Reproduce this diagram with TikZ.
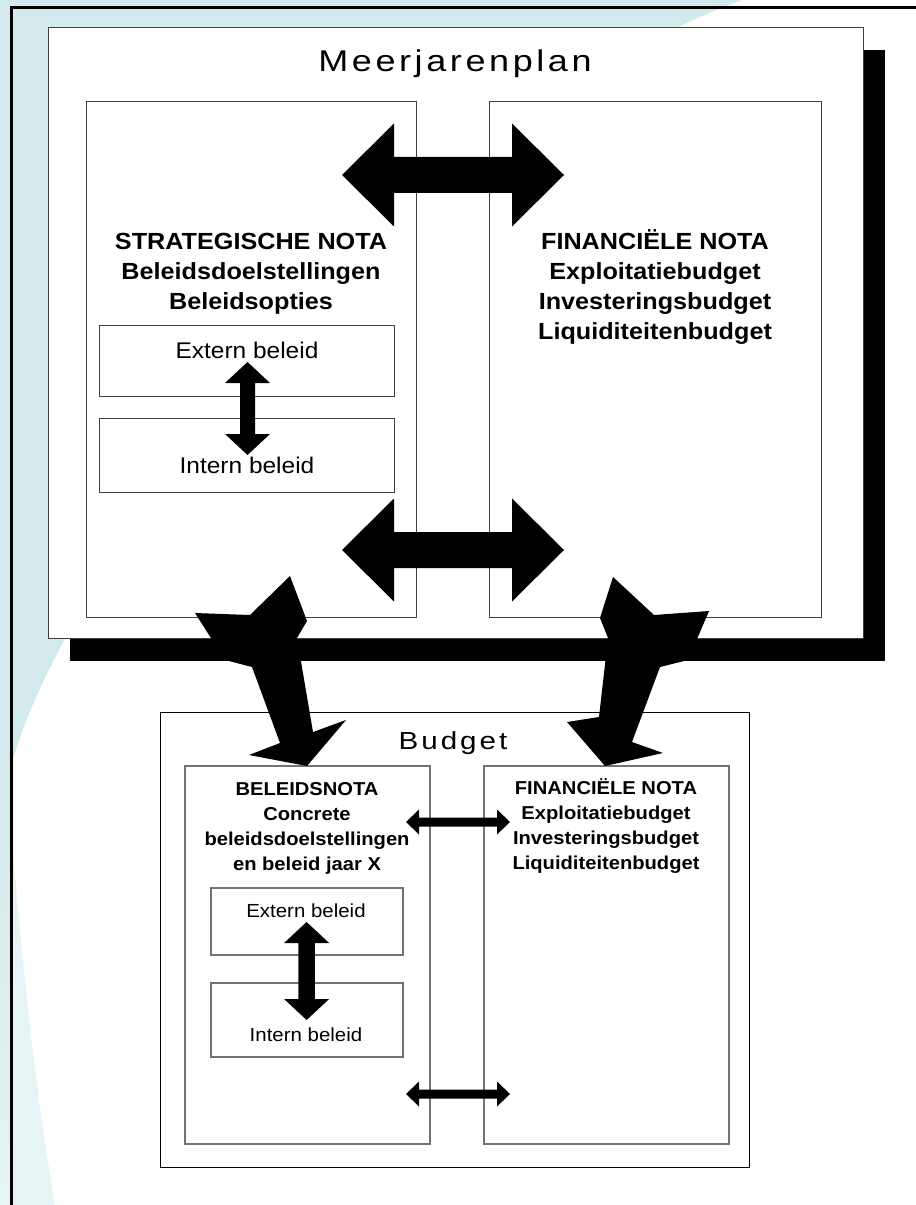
\documentclass[tikz,border=0pt]{standalone}
\usepackage{fontspec}
\setmainfont{Liberation Sans}[FakeStretch=1.08]
\newfontfamily\titlefont{Liberation Sans}[FakeStretch=1.2,LetterSpace=12]
\definecolor{bgcyan}{RGB}{211,234,236}
\definecolor{bgpale}{RGB}{230,244,245}
\newcommand{\dblarrow}[5]{%
  \begin{scope}[#1]
    \fill (-#2,0) -- (-#2+#3,#4) -- (-#2+#3,#5) -- (#2-#3,#5) -- (#2-#3,#4) -- (#2,0)
      -- (#2-#3,-#4) -- (#2-#3,-#5) -- (-#2+#3,-#5) -- (-#2+#3,-#4) -- cycle;
  \end{scope}}
\begin{document}
\begin{tikzpicture}[x=0.75pt,y=-0.75pt,
  darkbox/.style={draw=black!75,line width=0.75pt},
  greybox/.style={draw=black!55,line width=0.9pt},
  bigtitle/.style={anchor=base,inner sep=0pt,font=\titlefont\fontsize{22.5}{27}\selectfont},
  smalltitle/.style={anchor=base,inner sep=0pt,font=\titlefont\fontsize{18.5}{22}\selectfont},
  bignota/.style={align=center,inner sep=0pt,font=\fontsize{17.5}{22.5}\selectfont\bfseries},
  smallnota/.style={align=center,inner sep=0pt,font=\fontsize{14}{18.75}\selectfont\bfseries},
  bigpart/.style={anchor=base,inner sep=0pt,font=\fontsize{17}{20}\selectfont},
  smallpart/.style={anchor=base,inner sep=0pt,font=\fontsize{14.2}{17}\selectfont}]
\useasboundingbox (0,0) rectangle (916,1205);
\fill[white] (0,0) rectangle (916,1205);
\fill[bgcyan] (0,0) -- (742,0) .. controls (400,126) and (69,560) .. (13,760) -- (13,1205) -- (0,1205) -- cycle;
\shade[top color=bgcyan,bottom color=bgpale] (0,760) rectangle (13,1205);
\fill[bgpale] (13,850) .. controls (25,1000) and (40,1120) .. (55,1205) -- (13,1205) -- cycle;
\draw[line width=2.25pt] (11.5,1205) -- (11.5,7.5) -- (916,7.5);

\fill[black] (70,50) rectangle (885,661);
\draw[darkbox,fill=white] (48,28) rectangle (863,638);
\draw[darkbox] (86,102) rectangle (416,617);
\draw[darkbox] (489.5,102) rectangle (821,617);
\draw[darkbox] (99,325) rectangle (394,396);
\draw[darkbox] (99,418) rectangle (394,492);

\node[bigtitle] (meertitle) at (455,72) {Meerjarenplan};
\node[bignota] (stratnota) at (251,274) {STRATEGISCHE NOTA\\Beleidsdoelstellingen\\Beleidsopties};
\node[bignota] (finnota) at (655,287) {FINANCIËLE NOTA\\Exploitatiebudget\\Investeringsbudget\\Liquiditeitenbudget};
\node[bigpart] (externmeer) at (247,358) {Extern beleid};
\node[bigpart] (internmeer) at (247,473) {Intern beleid};

\dblarrow{shift={(453,175)}}{111}{52}{51.5}{18}
\dblarrow{shift={(453,550)}}{111}{52}{51.5}{18}
\dblarrow{shift={(247.5,408.5)},rotate=90}{46.5}{21}{22.5}{7.5}

\draw[black,line width=0.75pt,fill=white] (160,712) rectangle (749,1167);
\draw[greybox] (185,766) rectangle (430,1144);
\draw[greybox] (484,766) rectangle (729,1144);
\draw[greybox] (211,888) rectangle (403,955);
\draw[greybox] (211,983) rectangle (403,1057);

\node[smalltitle] (budgettitle) at (453,749) {Budget};
\node[smallnota] (beleidsnota) at (307,828) {BELEIDSNOTA\\Concrete\\beleidsdoelstellingen\\en beleid jaar X};
\node[smallnota] (finbudget) at (606,826) {FINANCIËLE NOTA\\Exploitatiebudget\\Investeringsbudget\\Liquiditeitenbudget};
\node[smallpart] (externbud) at (306,917) {Extern beleid};
\node[smallpart] (internbud) at (306,1041) {Intern beleid};

\dblarrow{shift={(306.6,971)},rotate=90}{49}{21}{22.5}{8.2}
\dblarrow{shift={(458,822)}}{52}{13}{12.5}{4.5}
\dblarrow{shift={(458,1094)}}{52}{13}{12.5}{4.5}

\fill (195,613) -- (250,615) -- (290,576) -- (307,621) -- (297,638) -- (313,732) -- (346,720) -- (307,766)
  -- (249,755) -- (280,743) -- (252,667) -- (225,660) -- cycle;
\fill (709,611) -- (654,615) -- (613,577) -- (600,618) -- (608,638) -- (599,717) -- (567,722) -- (605,766)
  -- (663,753) -- (632,742) -- (660,667) -- (688,660) -- cycle;
\end{tikzpicture}
\end{document}
